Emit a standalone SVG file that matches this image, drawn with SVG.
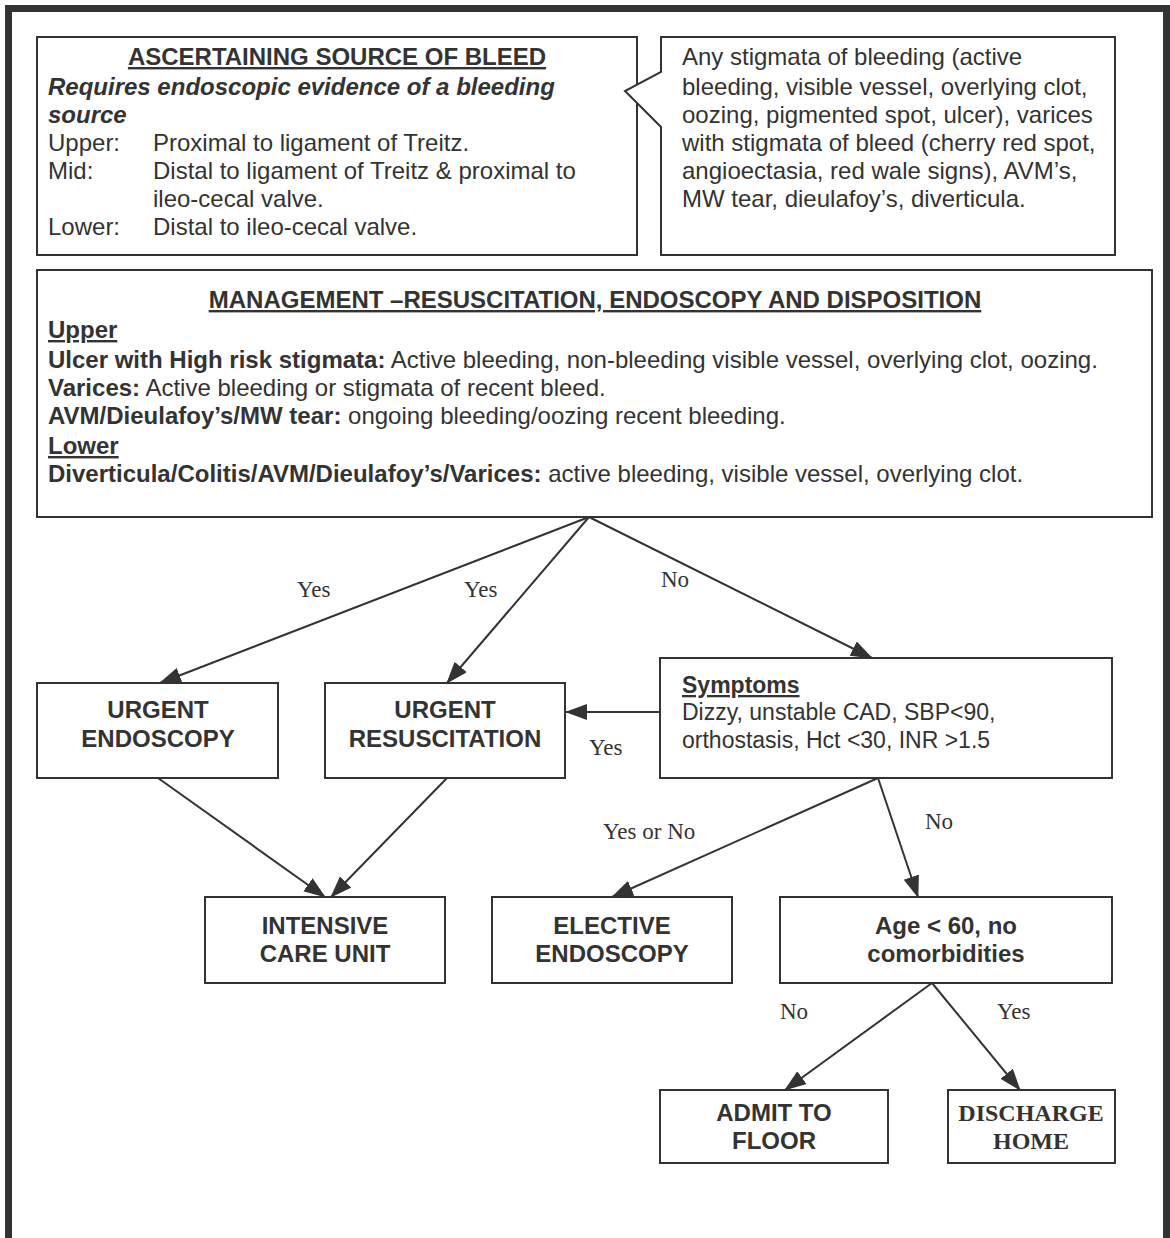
<svg xmlns="http://www.w3.org/2000/svg" width="1170" height="1238" viewBox="0 0 1170 1238">
<defs>
<marker id="ah" markerUnits="userSpaceOnUse" markerWidth="22" markerHeight="18" refX="21" refY="8" orient="auto">
<path d="M0,0 L22,8 L0,16 z" fill="#333"/>
</marker>
<style>
.box{fill:#fff;stroke:#333;stroke-width:2}
.t{font-family:"Liberation Sans",Arial,sans-serif;font-size:24px;fill:#333}
.s{font-size:23px}
.b{font-weight:bold}
.i{font-style:italic;font-weight:bold}
.n{font-family:"Liberation Sans",Arial,sans-serif;font-size:24px;font-weight:bold;fill:#333;text-anchor:middle}
.lbl{font-family:"Liberation Serif","Times New Roman",serif;font-size:23px;fill:#333}
.c{fill:none;stroke:#333;stroke-width:2;marker-end:url(#ah)}
</style>
</defs>
<rect width="1170" height="1238" fill="#fff"/>
<rect x="8.5" y="8.5" width="1158" height="1240" fill="none" stroke="#333" stroke-width="7"/>

<g id="source">
<rect class="box" x="37" y="37" width="600" height="218"/>
<text class="t b" x="337" y="65" text-anchor="middle" text-decoration="underline">ASCERTAINING SOURCE OF BLEED</text>
<text class="t i" x="48" y="95">Requires endoscopic evidence of a bleeding</text>
<text class="t i" x="48" y="123">source</text>
<text class="t" x="48" y="151">Upper:</text><text class="t" x="153" y="151">Proximal to ligament of Treitz.</text>
<text class="t" x="48" y="179">Mid:</text><text class="t" x="153" y="179">Distal to ligament of Treitz &amp; proximal to</text>
<text class="t" x="153" y="207">ileo-cecal valve.</text>
<text class="t" x="48" y="235">Lower:</text><text class="t" x="153" y="235">Distal to ileo-cecal valve.</text>
</g>

<g id="callout">
<path class="box" d="M661,72 L661,37 L1115,37 L1115,255 L661,255 L661,127 L625,91 Z"/>
<text class="t" x="682" y="65">Any stigmata of bleeding (active</text>
<text class="t" x="682" y="95">bleeding, visible vessel, overlying clot,</text>
<text class="t" x="682" y="123">oozing, pigmented spot, ulcer), varices</text>
<text class="t" x="682" y="151">with stigmata of bleed (cherry red spot,</text>
<text class="t" x="682" y="179">angioectasia, red wale signs), AVM’s,</text>
<text class="t" x="682" y="207">MW tear, dieulafoy’s, diverticula.</text>
</g>

<g id="management">
<rect class="box" x="37" y="270" width="1115" height="247"/>
<text class="t b" x="595" y="308" text-anchor="middle" text-decoration="underline">MANAGEMENT –RESUSCITATION, ENDOSCOPY AND DISPOSITION</text>
<text class="t b" x="48" y="338" text-decoration="underline">Upper</text>
<text class="t" x="48" y="368"><tspan class="b">Ulcer with High risk stigmata:</tspan> Active bleeding, non-bleeding visible vessel, overlying clot, oozing.</text>
<text class="t" x="48" y="396"><tspan class="b">Varices:</tspan> Active bleeding or stigmata of recent bleed.</text>
<text class="t" x="48" y="424"><tspan class="b">AVM/Dieulafoy’s/MW tear:</tspan> ongoing bleeding/oozing recent bleeding.</text>
<text class="t b" x="48" y="454" text-decoration="underline">Lower</text>
<text class="t" x="48" y="482"><tspan class="b">Diverticula/Colitis/AVM/Dieulafoy’s/Varices:</tspan> active bleeding, visible vessel, overlying clot.</text>
</g>

<g id="urgent-endoscopy">
<rect class="box" x="37" y="683" width="241" height="95"/>
<text class="n" x="158" y="718">URGENT</text>
<text class="n" x="158" y="747">ENDOSCOPY</text>
</g>

<g id="urgent-resuscitation">
<rect class="box" x="325" y="683" width="240" height="95"/>
<text class="n" x="445" y="718">URGENT</text>
<text class="n" x="445" y="747">RESUSCITATION</text>
</g>

<g id="symptoms">
<rect class="box" x="660" y="658" width="452" height="120"/>
<text class="t s b" x="682" y="693" text-decoration="underline">Symptoms</text>
<text class="t s" x="682" y="720">Dizzy, unstable CAD, SBP&lt;90,</text>
<text class="t s" x="682" y="748">orthostasis, Hct &lt;30, INR &gt;1.5</text>
</g>

<g id="icu">
<rect class="box" x="205" y="897" width="240" height="86"/>
<text class="n" x="325" y="934">INTENSIVE</text>
<text class="n" x="325" y="962">CARE UNIT</text>
</g>

<g id="elective">
<rect class="box" x="492" y="897" width="240" height="86"/>
<text class="n" x="612" y="934">ELECTIVE</text>
<text class="n" x="612" y="962">ENDOSCOPY</text>
</g>

<g id="age">
<rect class="box" x="780" y="897" width="332" height="86"/>
<text class="n" x="946" y="934">Age &lt; 60, no</text>
<text class="n" x="946" y="962">comorbidities</text>
</g>

<g id="admit">
<rect class="box" x="660" y="1090" width="228" height="73"/>
<text class="n" x="774" y="1121">ADMIT TO</text>
<text class="n" x="774" y="1149">FLOOR</text>
</g>

<g id="discharge">
<rect class="box" x="948" y="1090" width="167" height="73"/>
<text class="n" x="1031" y="1121" style="font-family:'Liberation Serif','Times New Roman',serif">DISCHARGE</text>
<text class="n" x="1031" y="1149" style="font-family:'Liberation Serif','Times New Roman',serif">HOME</text>
</g>

<g id="connectors">
<line class="c" x1="589" y1="517" x2="160" y2="683"/>
<line class="c" x1="589" y1="517" x2="447" y2="683"/>
<line class="c" x1="589" y1="517" x2="872" y2="658"/>
<line class="c" x1="660" y1="712" x2="566" y2="712"/>
<line class="c" x1="878" y1="778" x2="612" y2="897"/>
<line class="c" x1="878" y1="778" x2="918" y2="897"/>
<line class="c" x1="158" y1="778" x2="325" y2="897"/>
<line class="c" x1="447" y1="778" x2="331" y2="897"/>
<line class="c" x1="932" y1="983" x2="785" y2="1090"/>
<line class="c" x1="932" y1="983" x2="1020" y2="1090"/>
<text class="lbl" x="297" y="597">Yes</text>
<text class="lbl" x="464" y="597">Yes</text>
<text class="lbl" x="661" y="587">No</text>
<text class="lbl" x="589" y="755">Yes</text>
<text class="lbl" x="603" y="839">Yes or No</text>
<text class="lbl" x="925" y="829">No</text>
<text class="lbl" x="780" y="1019">No</text>
<text class="lbl" x="997" y="1019">Yes</text>
</g>
</svg>
